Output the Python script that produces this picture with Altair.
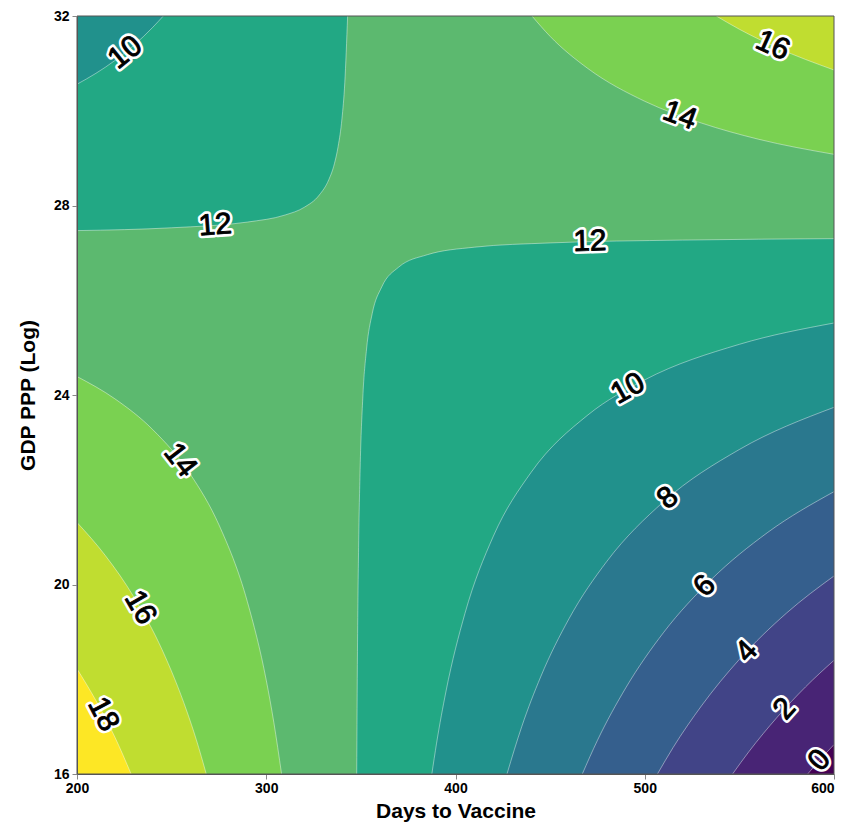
import altair as alt
import pandas as pd

X_DOMAIN = [200, 600]
Y_DOMAIN = [16, 32]
X_TICKS = [200, 300, 400, 500, 600]
Y_TICKS = [16, 20, 24, 28, 32]

BAND_COLORS = {
    "<0": "#440154", "0-2": "#482475", "2-4": "#414487", "4-6": "#355f8d",
    "6-8": "#2a788e", "8-10": "#21918c", "10-12": "#22a884", "12-14": "#5cb96f",
    "14-16": "#7ad151", "16-18": "#c0dd30", ">18": "#fde725",
}

# contour lines (days, log GDP)
tl12_x = [200, 250, 290, 310, 320, 328, 333, 336, 338, 340, 341.5, 343.0]
tl12_y = [27.47, 27.53, 27.65, 27.80, 27.96, 28.22, 28.54, 28.88, 29.25, 29.83, 30.59, 32.0]
tl10_x = [200, 210, 220, 230, 240, 245.6]
tl10_y = [30.56, 30.79, 31.06, 31.38, 31.76, 32.0]
tr14_x = [440.4, 450, 470, 500, 530, 560, 600]
tr14_y = [32.0, 31.57, 30.89, 30.20, 29.74, 29.40, 29.08]
tr16_x = [537.8, 550, 570, 600]
tr16_y = [32.0, 31.72, 31.33, 30.86]
br12_x = [347.8, 348.2, 348.8, 349.6, 351, 353, 356, 361, 370, 385, 410, 450, 520, 600]
br12_y = [16.0, 18.59, 20.78, 22.43, 23.93, 24.97, 25.72, 26.28, 26.70, 26.96, 27.12, 27.21, 27.27, 27.30]
br10_x = [387.5, 390, 395, 405, 420, 440, 470, 500, 550, 600]
br10_y = [16.0, 16.65, 17.75, 19.39, 21.02, 22.37, 23.58, 24.32, 25.07, 25.52]
br8_x = [427.2, 435, 445, 460, 480, 510, 550, 600]
br8_y = [16.0, 17.00, 18.05, 19.28, 20.49, 21.75, 22.85, 23.74]
br6_x = [467.0, 475, 490, 510, 535, 565, 600]
br6_y = [16.0, 16.71, 17.82, 18.99, 20.10, 21.10, 21.96]
br4_x = [506.7, 515, 530, 550, 575, 600]
br4_y = [16.0, 16.56, 17.44, 18.42, 19.40, 20.18]
br2_x = [546.4, 555, 570, 585, 600]
br2_y = [16.0, 16.47, 17.20, 17.84, 18.40]
br0_x = [586.1, 593, 600]
br0_y = [16.0, 16.32, 16.62]
bl14_x = [200, 220, 240, 260, 275, 290, 300, 304, 308.1]
bl14_y = [24.39, 23.92, 23.27, 22.32, 21.26, 19.64, 17.98, 17.09, 16.0]
bl16_x = [200, 215, 230, 245, 258, 263, 268.3]
bl16_y = [21.31, 20.61, 19.74, 18.62, 17.33, 16.73, 16.0]
bl18_x = [200, 210, 220, 228.6]
bl18_y = [18.22, 17.55, 16.78, 16.0]

# name, xs, ys, side filled beyond the line, band colour there
CURVES = [
    ("tl12", tl12_x, tl12_y, "top", "10-12"),
    ("tl10", tl10_x, tl10_y, "top", "8-10"),
    ("tr14", tr14_x, tr14_y, "top", "14-16"),
    ("tr16", tr16_x, tr16_y, "top", "16-18"),
    ("br12", br12_x, br12_y, "bottom", "10-12"),
    ("br10", br10_x, br10_y, "bottom", "8-10"),
    ("br8", br8_x, br8_y, "bottom", "6-8"),
    ("br6", br6_x, br6_y, "bottom", "4-6"),
    ("br4", br4_x, br4_y, "bottom", "2-4"),
    ("br2", br2_x, br2_y, "bottom", "0-2"),
    ("br0", br0_x, br0_y, "bottom", "<0"),
    ("bl14", bl14_x, bl14_y, "bottom", "14-16"),
    ("bl16", bl16_x, bl16_y, "bottom", "16-18"),
    ("bl18", bl18_x, bl18_y, "bottom", ">18"),
]

# contour labels
LABEL_TEXT = ["10", "12", "16", "14", "12", "10", "8", "6", "4", "2", "0", "14", "16", "18"]
LABEL_X = [225.5, 273.0, 567.6, 518.5, 471.0, 491.1, 512.2, 531.7, 553.9, 574.0, 592.4, 254.5, 233.4, 213.9]
LABEL_Y = [31.23, 27.58, 31.375, 29.90, 27.24, 24.135, 21.824, 19.97, 18.586, 17.378, 16.29, 22.624, 19.515, 17.262]
LABEL_ANGLE = [321.3, 355.8, 24.4, 20.2, 358.5, 330.8, 320.1, 315.0, 313.4, 312.3, 311.6, 52.2, 60.1, 62.4]

FONT = "Liberation Sans"

xscale = alt.Scale(domain=X_DOMAIN, nice=False, zero=False)
yscale = alt.Scale(domain=Y_DOMAIN, nice=False, zero=False)
xaxis = alt.Axis(values=X_TICKS, title="Days to Vaccine", grid=False, labelFlush=False,
                 labelAlign={"expr": "datum.value >= 600 ? 'right' : 'center'"},
                 labelFont=FONT, labelFontSize=14, labelFontWeight="bold", labelColor="black",
                 labelPadding=2, tickSize=5, tickColor="#888", domainColor="#555",
                 titleFont=FONT, titleFontSize=21, titleFontWeight="bold", titleColor="black",
                 titleBaseline="alphabetic", titleY=43, zindex=1)
yaxis = alt.Axis(values=Y_TICKS, title="GDP PPP (Log)", grid=False, labelFlush=False,
                 labelFont=FONT, labelFontSize=14, labelFontWeight="bold", labelColor="black",
                 labelPadding=3, tickSize=5, tickColor="#888", domainColor="#555",
                 titleFont=FONT, titleFontSize=21, titleFontWeight="bold", titleColor="black",
                 titlePadding=15, zindex=1)

X = alt.X("x:Q", scale=xscale, axis=xaxis)
Y = alt.Y("y:Q", scale=yscale, axis=yaxis)

base_df = pd.DataFrame({"x": [X_DOMAIN[0]], "x2": [X_DOMAIN[1]],
                        "y": [Y_DOMAIN[0]], "y2": [Y_DOMAIN[1]]})
layers = [
    alt.Chart(base_df).mark_rect(color=BAND_COLORS["12-14"]).encode(
        x=X, x2="x2:Q", y=Y, y2="y2:Q")
]

line_rows = []
for name, xs, ys, side, band in CURVES:
    basev = Y_DOMAIN[1] if side == "top" else Y_DOMAIN[0]
    df = pd.DataFrame({"x": xs, "y": ys, "base": [basev] * len(xs)})
    layers.append(
        alt.Chart(df).mark_area(color=BAND_COLORS[band], interpolate="monotone",
                                clip=True, strokeWidth=0).encode(
            x=X, y=Y, y2="base:Q")
    )
    for xv, yv in zip(xs, ys):
        line_rows.append({"curve": name, "x": xv, "y": yv})

lines_df = pd.DataFrame(line_rows)
layers.append(
    alt.Chart(lines_df).mark_line(color="white", strokeWidth=0.7, opacity=0.6,
                                  interpolate="monotone", clip=True).encode(
        x=X, y=Y, detail="curve:N")
)

lab_df = pd.DataFrame({"x": LABEL_X, "y": LABEL_Y, "t": LABEL_TEXT, "a": LABEL_ANGLE})
layers.append(
    alt.Chart(lab_df).mark_text(font=FONT, fontSize=30, align="center", baseline="middle",
                                fill="white", stroke="white", strokeWidth=6,
                                strokeJoin="round").encode(
        x=X, y=Y, text="t:N", angle=alt.Angle("a:Q", scale=None))
)
layers.append(
    alt.Chart(lab_df).mark_text(font=FONT, fontSize=30, align="center", baseline="middle",
                                fill="black", stroke="black", strokeWidth=0.9,
                                strokeJoin="round").encode(
        x=X, y=Y, text="t:N", angle=alt.Angle("a:Q", scale=None))
)
layers.append(
    alt.Chart(base_df).mark_rect(filled=False, stroke="#555", strokeWidth=1).encode(
        x=X, x2="x2:Q", y=Y, y2="y2:Q")
)

chart = alt.layer(*layers).properties(
    width=757, height=758,
    autosize=alt.AutoSizeParams(type="none"),
    padding={"left": 69, "top": 8, "right": 3, "bottom": 48},
).configure_view(stroke=None)

chart.save("out.html", embed_options={"renderer": "svg", "actions": False})
